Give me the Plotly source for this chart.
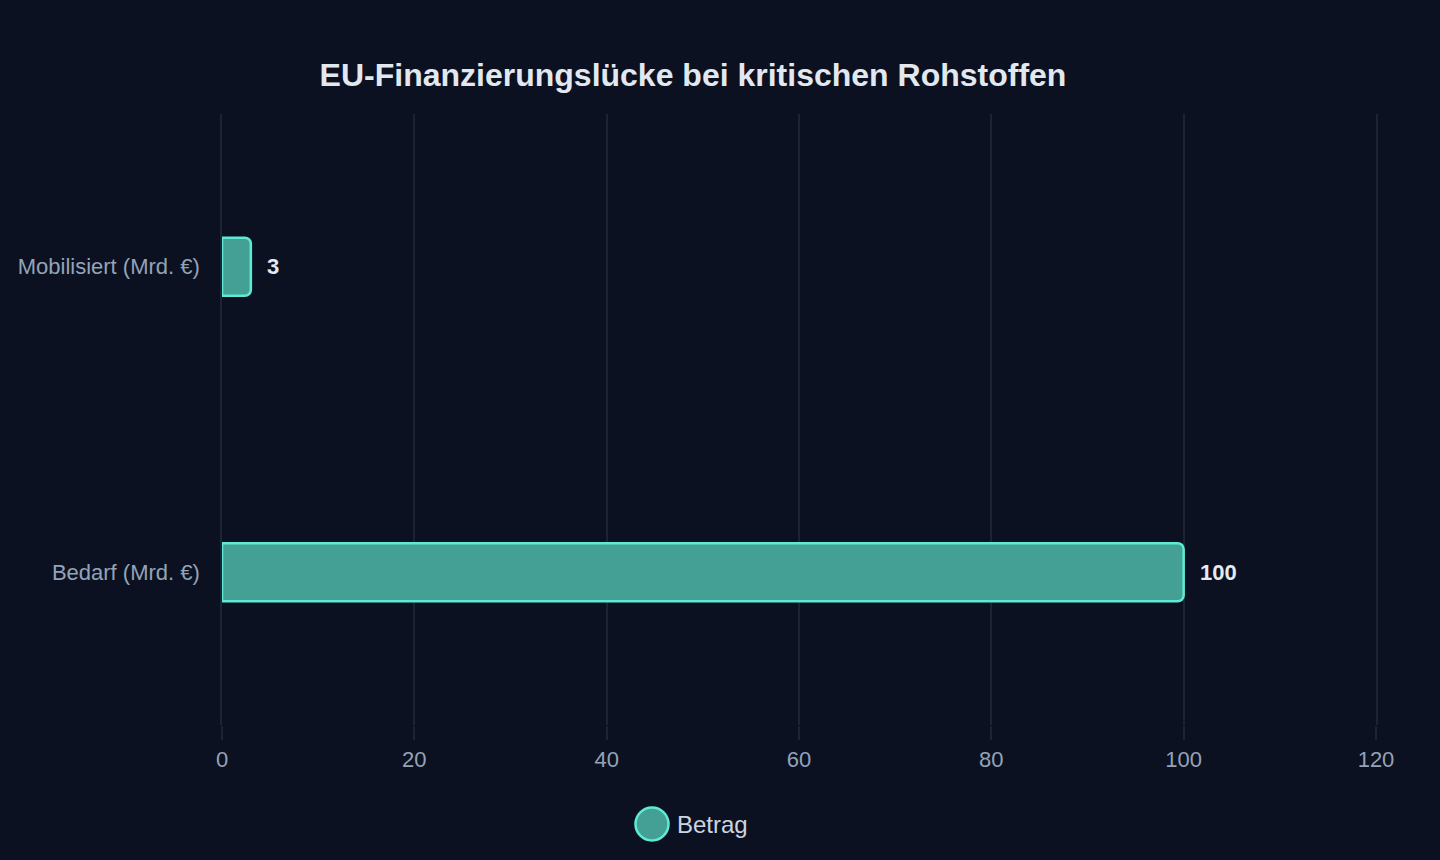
import plotly.graph_objects as go

categories = ["Bedarf (Mrd. €)", "Mobilisiert (Mrd. €)"]
values = [100, 3]
value_labels = ["100", "3"]
x_ticks = [0, 20, 40, 60, 80, 100, 120]
series_name = "Betrag"
title_text = "EU-Finanzierungslücke bei kritischen Rohstoffen"

BG = "#0b1120"
GRID = "#1b2434"
FILL = "#44a095"
EDGE = "#5eead4"
FONT = "Liberation Sans, Arial, sans-serif"

W, H = 1440, 860
L, R, T, B = 222, 64, 114, 135

fig = go.Figure()
fig.add_trace(go.Bar(
    y=categories, x=values, orientation="h", name=series_name,
    width=0.19,
    marker=dict(color=FILL, line=dict(color=EDGE, width=2.5), cornerradius=6),
    showlegend=False, hoverinfo="x+y",
))

for c, v, t in zip(categories, values, value_labels):
    fig.add_annotation(x=v, y=c, xref="x", yref="y", text="<b>" + t + "</b>",
                       showarrow=False, xanchor="left", yanchor="middle", xshift=14,
                       font=dict(family=FONT, size=22, color="#e5e9f0"))

# custom legend (circle marker)
pw = W - L - R
ph = H - T - B
def px_x(px):
    return (px - L) / pw
def px_y(py):
    return (H - B - py) / ph

cx, cy, rad = 652, 824, 16.5
fig.add_shape(type="circle", xref="paper", yref="paper",
              x0=px_x(cx - rad), x1=px_x(cx + rad), y0=px_y(cy + rad), y1=px_y(cy - rad),
              fillcolor=FILL, line=dict(color=EDGE, width=2.5))
fig.add_annotation(x=px_x(675), y=px_y(824), xref="paper", yref="paper", text=series_name,
                   showarrow=False, xanchor="left", yanchor="middle",
                   font=dict(family=FONT, size=24, color="#cbd5e1"))

fig.update_layout(
    width=W, height=H,
    paper_bgcolor=BG, plot_bgcolor=BG,
    margin=dict(l=L, r=R, t=T, b=B, pad=0),
    title=dict(text="<b>" + title_text + "</b>", x=693 / W, xanchor="center",
               y=1 - 75 / H, yanchor="middle",
               font=dict(family=FONT, size=32, color="#e2e8f0")),
    font=dict(family=FONT, color="#94a3b8"),
    showlegend=False,
)
fig.update_xaxes(range=[0, 120], tickvals=x_ticks, showgrid=True, gridcolor=GRID, gridwidth=1.5,
                 zeroline=False, showline=False, ticks="outside", ticklen=14, tickcolor=GRID,
                 tickwidth=1.5, tickfont=dict(family=FONT, size=22, color="#94a3b8"),
                 ticklabelstandoff=1, fixedrange=True)
fig.update_yaxes(categoryorder="array", categoryarray=categories, showgrid=False,
                 zeroline=False, showline=True, mirror=True, linecolor=GRID, linewidth=1.5,
                 layer="below traces", ticks="",
                 tickfont=dict(family=FONT, size=22, color="#94a3b8"),
                 ticklabelstandoff=16, fixedrange=True)

fig.write_html("out.html", config={"displayModeBar": False})
